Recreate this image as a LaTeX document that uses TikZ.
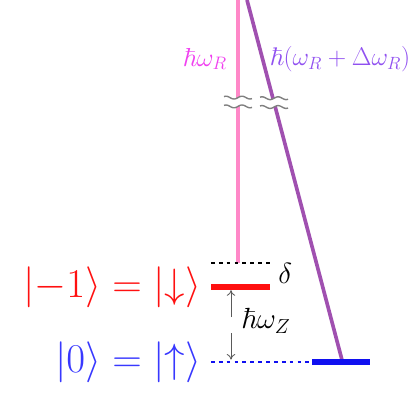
\documentclass[tikz,border=0pt]{standalone}
\usepackage{amsmath,amssymb}
\usepackage{graphicx}
\usepackage{tikz}
\usetikzlibrary{arrows.meta,calc,positioning}
\usepackage{xcolor}
\definecolor{lvlred}{HTML}{FF1010}
\definecolor{lvlblue}{HTML}{1010F0}
\definecolor{ketblue}{HTML}{3838FF}
\definecolor{pinkline}{HTML}{FF88C8}
\definecolor{pinktext}{HTML}{F040F0}
\definecolor{purpline}{HTML}{A050B0}
\definecolor{purptext}{HTML}{9050F0}
\definecolor{breakgray}{HTML}{808080}

\tikzset{
  level/.style={line width=4pt},
  dotlevel/.style={line width=2pt, dash pattern=on 2.6pt off 3pt},
  beam/.style={line width=2.2pt},
  ketlabel/.style={anchor=east, font=\Huge},
  splitarrow/.style={-{To[length=4pt,width=6pt]}, breakgray!70!black, line width=0.6pt},
  brkmark/.pic={
    \fill[white] plot[domain=-0.35:0.35, samples=30, smooth] (\x,{0.11+0.035*sin(\x*900)})
      -- plot[domain=0.35:-0.35, samples=30, smooth] (\x,{-0.11+0.035*sin(\x*900)}) -- cycle;
    \draw[breakgray, line width=1pt] plot[domain=-0.35:0.35, samples=30, smooth] (\x,{0.11+0.035*sin(\x*900)});
    \draw[breakgray, line width=1pt] plot[domain=-0.35:0.35, samples=30, smooth] (\x,{-0.11+0.035*sin(\x*900)});
  }
}

\begin{document}
\begin{tikzpicture}[>=Latex]
  \useasboundingbox (0,0) rectangle (10.325,10.175);
  \coordinate (pinkTop) at (5.95,10.175);
  \coordinate (pinkBot) at (5.95,3.6);
  \coordinate (purpTop) at (6.175,10.175);
  \coordinate (purpBot) at (8.55,1.175);
  \coordinate (virtL) at (5.275,3.6);
  \coordinate (virtR) at (6.75,3.6);
  \coordinate (downL) at (5.275,3.0);
  \coordinate (downR) at (6.75,3.0);
  \coordinate (upL) at (5.275,1.125);
  \coordinate (upM) at (7.8,1.125);
  \coordinate (upR) at (9.25,1.125);
  % lines of the beams
  \draw[pinkline, beam] (pinkTop) -- (pinkBot);
  \draw[purpline, beam, line width=2.6pt] (purpTop) -- (purpBot);
  % levels
  \draw[dotlevel, black] (virtL) -- (virtR);
  \draw[level, lvlred] (downL) -- (downR);
  \draw[dotlevel, lvlblue] (upL) -- (upM);
  \draw[level, lvlblue] (upM) -- (upR);
  % labels
  \node[lvlred, ketlabel] (ketDown) at (5.15,3.0) {\scalebox{1.17}{$|{-1}\rangle=|{\downarrow}\rangle$}};
  \node[ketblue, ketlabel] (ketUp) at (5.15,1.125) {\scalebox{1.17}{$|0\rangle=|{\uparrow}\rangle$}};
  \node[font=\huge] (delta) at (7.13,3.33) {$\delta$};
  \node[font=\huge] (zeeman) at (6.65,2.15) {$\hbar\omega_Z$};
  \node[pinktext, anchor=east, font=\LARGE] (omR) at (5.8,8.7) {\scalebox{1.07}{$\hbar\omega_R$}};
  \node[purptext, anchor=west, font=\LARGE] (omRD) at (6.62,8.7) {\scalebox{1.05}{$\hbar(\omega_R+\Delta\omega_R)$}};
  % Zeeman splitting
  \coordinate (zUp) at (5.775,3.0);
  \coordinate (zDn) at (5.775,1.125);
  \draw[splitarrow] (5.775,2.25) -- ($(zUp)+(0,-0.08)$);
  \draw[splitarrow] (5.775,1.85) -- ($(zDn)+(0,0.06)$);
  % break marks
  \pic at (5.95,7.625) {brkmark};
  \pic at ($(purpTop)!0.285!(purpBot)$) {brkmark};
\end{tikzpicture}
\end{document}
